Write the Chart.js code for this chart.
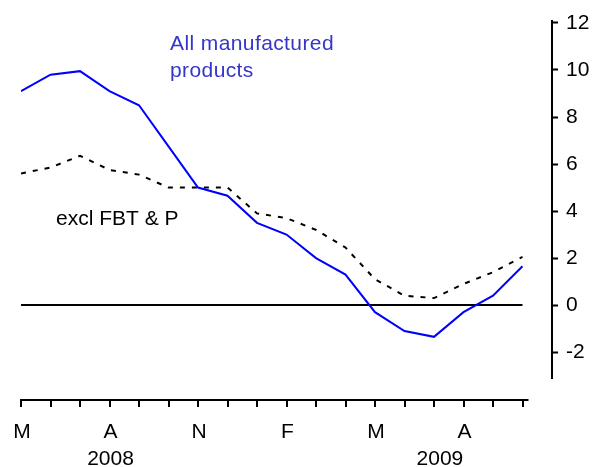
<!DOCTYPE html>
<html lang="en">
<head>
<meta charset="UTF-8">
<title>Manufactured products</title>
<script src="https://cdn.jsdelivr.net/npm/chart.js"></script>
<style>
  html, body { margin: 0; padding: 0; background: #fff; }
  #wrap { width: 605px; height: 467px; position: relative; }
</style>
</head>
<body>
<div id="wrap"><canvas id="chart"></canvas></div>
<script>
// months May 2008 .. Oct 2009
const months = ['M', 'J', 'J', 'A', 'S', 'O', 'N', 'D', 'J', 'F', 'M', 'A', 'M', 'J', 'J', 'A', 'S', 'O'];
const shownMonths = [0, 3, 6, 9, 12, 15];
const years = ['2008', '2009'];
const yTicks = [-2, 0, 2, 4, 6, 8, 10, 12];

const allManufactured = [9.1, 9.8, 9.95, 9.1, 8.5, 6.75, 5.0, 4.65, 3.5, 3.0, 2.0, 1.3, -0.3, -1.1, -1.35, -0.3, 0.4, 1.65];
const exclFBTP = [5.6, 5.85, 6.35, 5.75, 5.55, 5.0, 5.0, 5.0, 3.9, 3.7, 3.2, 2.45, 1.1, 0.4, 0.3, 0.9, 1.4, 2.05];

const FONT = '"Liberation Sans", Arial, sans-serif';

const toPoints = arr => arr.map((v, i) => ({ x: i, y: v }));

// zero line, bottom time axis and text notes
const extras = {
  id: 'extras',
  beforeDatasetsDraw(chart) {
    const { ctx, scales: { x, y } } = chart;
    ctx.save();
    ctx.strokeStyle = '#000';
    ctx.lineWidth = 2;
    ctx.beginPath();
    ctx.moveTo(x.getPixelForValue(0), y.getPixelForValue(0));
    ctx.lineTo(x.getPixelForValue(months.length - 1), y.getPixelForValue(0));
    ctx.stroke();
    ctx.restore();
  },
  afterDraw(chart) {
    const { ctx, scales: { x } } = chart;
    const axisY = 400;
    ctx.save();
    ctx.strokeStyle = '#000';
    ctx.lineWidth = 2;
    ctx.beginPath();
    ctx.moveTo(x.getPixelForValue(0) - 1, axisY);
    ctx.lineTo(x.getPixelForValue(months.length - 1) + 6, axisY);
    months.forEach((m, i) => {
      const px = Math.round(x.getPixelForValue(i));
      ctx.moveTo(px, axisY);
      ctx.lineTo(px, axisY + 7);
    });
    ctx.stroke();

    ctx.fillStyle = '#000';
    ctx.font = '21px ' + FONT;
    ctx.textAlign = 'center';
    ctx.textBaseline = 'alphabetic';
    shownMonths.forEach(i => ctx.fillText(months[i], x.getPixelForValue(i) + 1, 438));
    ctx.fillText(years[0], x.getPixelForValue(3) + 1, 465);
    ctx.fillText(years[1], x.getPixelForValue(14.2), 465);

    ctx.textAlign = 'left';
    ctx.fillText('excl FBT & P', 56, 225);
    ctx.fillStyle = '#3535cc';
    ctx.letterSpacing = '0.4px';
    ctx.fillText('All manufactured', 170, 50);
    ctx.fillText('products', 170, 77);
    ctx.restore();
  }
};

new Chart(document.getElementById('chart'), {
  type: 'line',
  data: {
    datasets: [
      {
        label: 'All manufactured products',
        data: toPoints(allManufactured),
        borderColor: '#0000ff',
        borderWidth: 2,
        pointRadius: 0,
        tension: 0
      },
      {
        label: 'excl FBT & P',
        data: toPoints(exclFBTP),
        borderColor: '#000',
        borderWidth: 2,
        borderDash: [5, 7],
        pointRadius: 0,
        tension: 0
      }
    ]
  },
  options: {
    responsive: true,
    maintainAspectRatio: false,
    animation: false,
    layout: { padding: { left: 21, top: 20, bottom: 89, right: 0 } },
    plugins: { legend: { display: false }, tooltip: { enabled: false } },
    scales: {
      x: {
        type: 'linear',
        display: false,
        min: 0,
        max: months.length
      },
      y: {
        position: 'right',
        min: -3.1,
        max: 12.1,
        afterBuildTicks: s => { s.ticks = yTicks.map(v => ({ value: v })); },
        afterFit: s => { s.width = 53; },
        border: { display: true, color: '#000', width: 2 },
        grid: { drawOnChartArea: false, drawTicks: true, tickLength: 6, tickWidth: 2, tickColor: '#000' },
        ticks: { color: '#000', padding: 8, font: { size: 21, family: FONT } }
      }
    }
  },
  plugins: [extras]
});
</script>
</body>
</html>
